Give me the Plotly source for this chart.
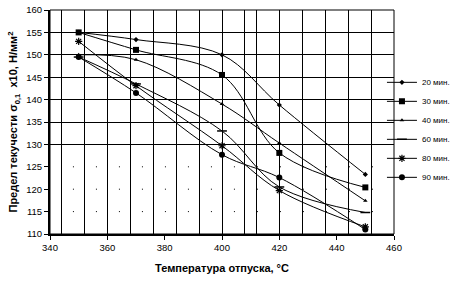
import plotly.graph_objects as go

temps = [350, 370, 400, 420, 450]
series_names = ["20 мин.", "30 мин.", "40 мин.", "60 мин.", "80 мин.", "90 мин."]
s20 = [155.0, 153.4, 150.0, 138.8, 123.3]
s30 = [155.0, 151.1, 145.5, 128.1, 120.4]
s40 = [150.0, 148.9, 139.0, 130.3, 117.4]
s60 = [149.5, 143.5, 133.0, 120.5, 114.8]
s80 = [153.0, 143.1, 129.7, 119.7, 111.6]
s90 = [149.5, 141.5, 127.7, 122.6, 111.0]

x_ticks = [340, 360, 380, 400, 420, 440, 460]
y_ticks = [110, 115, 120, 125, 130, 135, 140, 145, 150, 155, 160]
x_grid = [344, 352, 360, 368, 376, 384, 392, 400, 408, 412, 420, 428, 436, 444, 452]
y_grid_solid = [130, 135, 140, 145, 150, 155]
y_grid_dotted = [115, 120, 125]

markers = [
    dict(symbol="diamond", size=4),
    dict(symbol="square", size=6),
    dict(symbol="triangle-up", size=4),
    dict(symbol="line-ew", size=7, line=dict(width=1.5, color="black")),
    dict(symbol="asterisk", size=6, line=dict(width=1.2, color="black")),
    dict(symbol="circle", size=6),
]
values = [s20, s30, s40, s60, s80, s90]

fig = go.Figure()
for name, vals, mk in zip(series_names, values, markers):
    m = dict(color="black")
    m.update(mk)
    fig.add_trace(go.Scatter(
        x=temps, y=vals, name=name, mode="lines+markers",
        line=dict(color="black", width=1, shape="spline", smoothing=1),
        marker=m,
    ))

for yv in y_grid_dotted:
    fig.add_shape(type="line", xref="x", yref="y", x0=348, x1=460, y0=yv, y1=yv,
                  line=dict(color="black", width=1, dash="1px,22px"), layer="below")

# plot-area frame (top and right edges)
fig.add_shape(type="rect", xref="paper", yref="paper", x0=0, x1=1, y0=0, y1=1,
              line=dict(color="black", width=1), layer="below")

font_family = "Liberation Sans, Arial, sans-serif"
fig.update_layout(
    width=463, height=281,
    margin=dict(l=50, r=69, t=4, b=47),
    paper_bgcolor="white", plot_bgcolor="white",
    font=dict(family=font_family, color="black", size=9),
    showlegend=True,
    legend=dict(x=0.965, xanchor="left", y=0.465, yanchor="middle",
                font=dict(size=8, family=font_family), tracegroupgap=0,
                itemwidth=30, bgcolor="rgba(0,0,0,0)"),
    xaxis=dict(
        range=[340, 460], tickvals=x_ticks, ticks="outside", ticklen=4,
        tickwidth=1, tickcolor="black", showgrid=False, zeroline=False,
        showline=True, linecolor="black", linewidth=2,
        tickfont=dict(size=9.5), ticklabeloverflow="allow",
        minor=dict(tickvals=x_grid, showgrid=True, gridcolor="black", gridwidth=1, ticks=""),
        title=dict(text="<b>Температура отпуска, °С</b>", font=dict(size=11), standoff=12),
    ),
    yaxis=dict(
        range=[110, 160], tickvals=y_ticks, ticks="outside", ticklen=4,
        tickwidth=1, tickcolor="black", showgrid=False, zeroline=False,
        showline=True, linecolor="black", linewidth=2,
        tickfont=dict(size=9.5), ticklabeloverflow="allow",
        minor=dict(tickvals=y_grid_solid, showgrid=True, gridcolor="black", gridwidth=1, ticks=""),
        title=dict(text="<b>Предел текучести σ<sub>0,1</sub>  x10, Н/мм<sup>2</sup></b>",
                   font=dict(size=11), standoff=6),
    ),
)

fig.write_html("out.html", config={"displayModeBar": False},
               post_script="document.body.style.margin='0';document.body.style.overflow='hidden';")
